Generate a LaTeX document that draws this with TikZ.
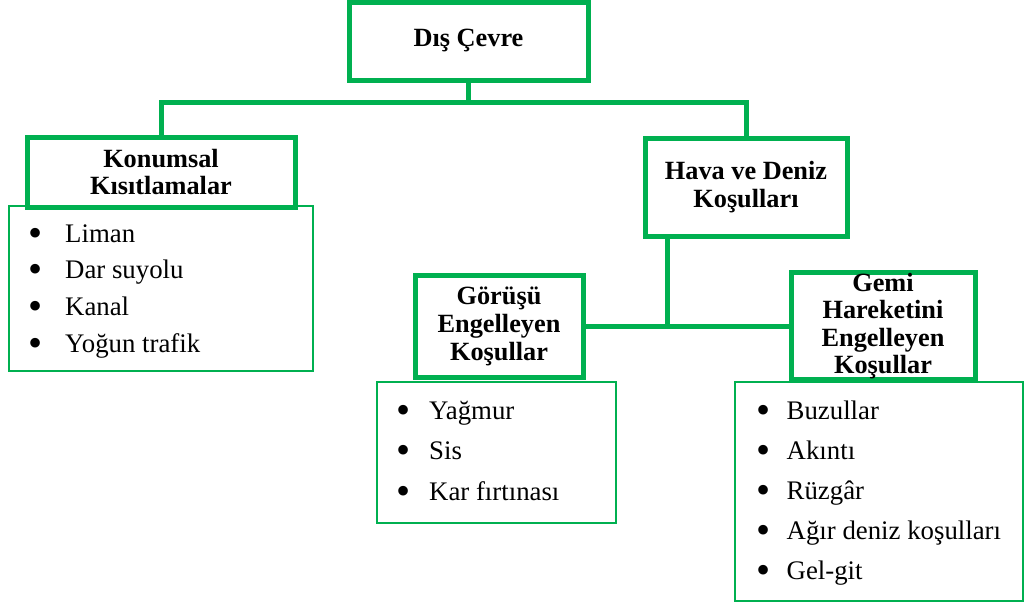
\documentclass[tikz,border=0pt]{standalone}
\usepackage{fontspec}
\setmainfont{Liberation Serif}
\definecolor{grn}{HTML}{00B050}
\newcommand\bdot{\raisebox{-0.16em}{\scalebox{1.5}{\textbullet}}}
\newcommand\bulA{\makebox[36.5pt][l]{\bdot}}
\newcommand\bulB{\makebox[32.5pt][l]{\bdot}}
\newcommand\bulC{\makebox[30pt][l]{\bdot}}
\begin{document}
\begin{tikzpicture}[x=1pt,y=-1pt,
  hdr/.style={draw=grn, line width=5pt, fill=white, inner sep=0pt, align=center,
    font=\fontsize{26.3}{28}\selectfont\bfseries},
  lst/.style={draw=grn, line width=2pt, fill=white, inner sep=0pt},
  items/.style={anchor=base west, inner sep=0pt, align=left},
  conn/.style={draw=grn, line width=5pt}]
\useasboundingbox (0,0) rectangle (1025,608);
% list boxes
\node[lst, minimum width=304, minimum height=165] (konL) at (161,288.5) {};
\node[lst, minimum width=239, minimum height=141] (gorL) at (496.5,452.5) {};
\node[lst, minimum width=288, minimum height=219] (gemL) at (879,491.5) {};
% list items (anchor is the baseline of the last line)
\node[items, font=\fontsize{26.8}{36.7}\selectfont] (konT) at ([shift={(20.5,147.1)}]konL.north west)
  {\bulA Liman\\ \bulA Dar suyolu\\ \bulA Kanal\\ \bulA Yoğun trafik};
\node[items, font=\fontsize{26.8}{40.5}\selectfont] (gorT) at ([shift={(20.5,119)}]gorL.north west)
  {\bulB Yağmur\\ \bulB Sis\\ \bulB Kar fırtınası};
\node[items, font=\fontsize{26.8}{40}\selectfont] (gemT) at ([shift={(22.5,198)}]gemL.north west)
  {\bulC Buzullar\\ \bulC Akıntı\\ \bulC Rüzgâr\\ \bulC Ağır deniz koşulları\\ \bulC Gel-git};
% header boxes
\node[hdr, minimum width=239, minimum height=78] (dis) at (468.5,41) {Dış Çevre};
\node[hdr, minimum width=268, minimum height=70] (kon) at (161,172) {Konumsal\\Kısıtlamalar};
\node[hdr, minimum width=202, minimum height=98] (hava) at (746,187) {Hava ve Deniz\\Koşulları};
\node[hdr, minimum width=168, minimum height=102] (gor) at (499,326) {Görüşü\\Engelleyen\\Koşullar};
\node[hdr, minimum width=184, minimum height=106, font=\fontsize{26.3}{27.5}\selectfont\bfseries] (gem) at (883,326) {Gemi\\Hareketini\\Engelleyen\\Koşullar};
% connectors
\coordinate (j1) at (470,102);
\coordinate (j2) at (667,326);
\draw[conn] (dis.south) -- (dis.south |- j1);
\draw[conn] (kon.north) |- (j1) -| (hava.north);
\draw[conn] (hava.south -| j2) -- (j2);
\draw[conn] (gor.east) -- (gem.west);
\end{tikzpicture}
\end{document}
